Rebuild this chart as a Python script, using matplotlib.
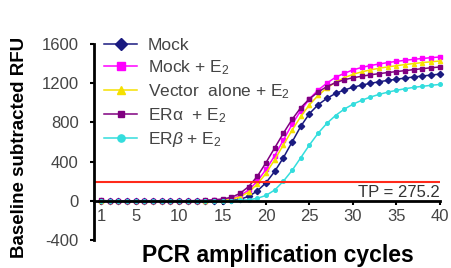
import matplotlib.pyplot as plt
import numpy as np

plt.rcParams['font.family'] = ['Liberation Sans', 'DejaVu Sans']
plt.rcParams['mathtext.fontset'] = 'custom'
plt.rcParams['mathtext.rm'] = 'Liberation Sans'
plt.rcParams['mathtext.it'] = 'Liberation Sans:italic'
plt.rcParams['axes.unicode_minus'] = False

# Datos
cycles = list(range(1, 41))
mock = [0, -2, -3, -2, -4, -3, -5, -4, -3, -4, -3, -2, -1, 0, 2, 6,
        15, 45, 100, 185, 300, 440, 600, 760, 890, 980, 1045, 1095, 1130, 1158,
        1180, 1198, 1214, 1228, 1240, 1252, 1263, 1273, 1283, 1292]
mock_e2 = [0, -3, -4, -3, -5, -4, -3, -4, -2, -3, -1, 0, 2, 5, 10,
           20, 50, 110, 200, 320, 460, 620, 780, 920, 1040, 1130, 1200, 1260, 1300, 1335,
           1360, 1380, 1395, 1410, 1422, 1433, 1443, 1452, 1460, 1467]
vector_e2 = [0, -2, -3, -4, -3, -4, -5, -3, -4, -2, -2, -1, 1, 3, 7,
             15, 40, 90, 170, 280, 420, 570, 720, 860, 980, 1075, 1150, 1210, 1255, 1290,
             1315, 1335, 1352, 1366, 1378, 1390, 1400, 1410, 1418, 1426]
era_e2 = [5, -2, -3, -2, -3, -4, -3, -2, -3, -2, 0, 2, 5, 10,
          18, 35, 75, 145, 250, 390, 540, 690, 830, 950, 1040, 1110, 1165, 1205, 1235, 1255,
          1270, 1285, 1297, 1308, 1318, 1328, 1338, 1348, 1357, 1365]
erb_e2 = [0, -3, -4, -3, -4, -5, -4, -3, -4, -3, -3, -2, -2, -1, 0, 2, 5,
          10, 25, 55, 110, 200, 310, 440, 570, 690, 790, 870, 935, 985,
          1025, 1058, 1085, 1108, 1127, 1143, 1157, 1168, 1178, 1187]
threshold = 190
xticks = [1, 5, 10, 15, 20, 25, 30, 35, 40]
yticks = [-400, 0, 400, 800, 1200, 1600]

series = [
    (mock, 'Mock', '#1a1a80', 'D', 3.2),
    (mock_e2, 'Mock + E$_2$', '#ff00ff', 's', 2.6),
    (vector_e2, 'Vector  alone + E$_2$', '#f5e000', '^', 3.0),
    (era_e2, 'ER\u03b1  + E$_2$', '#800080', 's', 2.2),
    (erb_e2, 'ER$\\beta$ + E$_2$', '#33dddd', 'o', 2.6),
]

fig = plt.figure(figsize=(4.52, 2.68), dpi=100)
ax = fig.add_axes([0.208, 0.1045, 0.765, 0.7315])

for vals, lab, col, mk, ms in series:
    ax.plot(cycles, vals, color=col, marker=mk, markersize=ms, lw=1.1,
            label=lab, clip_on=False)

ax.axhline(threshold, color='#ff2a1a', lw=1.5)
ax.text(40, 85, 'TP = 275.2', ha='right', va='center', fontsize=12, color='#333333')

ax.set_xlim(0.2, 40)
ax.set_ylim(-400, 1600)
ax.set_xticks(xticks)
ax.set_yticks(yticks)
ax.spines['top'].set_visible(False)
ax.spines['right'].set_visible(False)
ax.spines['bottom'].set_position(('data', 0))
ax.spines['left'].set_linewidth(2)
ax.spines['bottom'].set_linewidth(2)
ax.tick_params(axis='both', labelsize=12, labelcolor='#444444', length=3, width=1.5, direction='out')
ax.tick_params(axis='y', pad=8)
ax.tick_params(axis='x', pad=3)

ax.set_xlabel('PCR amplification cycles', fontsize=16.5, fontweight='bold')
ax.xaxis.set_label_coords(0.532, -0.02)
ax.set_ylabel('Baseline subtracted RFU', fontsize=13.5, fontweight='bold')
ax.yaxis.set_label_coords(-0.19, 0.47)

ax.legend(loc='upper left', bbox_to_anchor=(0.005, 1.075), frameon=False, fontsize=12.5,
          handlelength=1.9, handletextpad=0.6, labelspacing=0.3, borderpad=0,
          markerscale=2.0, labelcolor='#444444')

plt.savefig('out.png', dpi=100)
